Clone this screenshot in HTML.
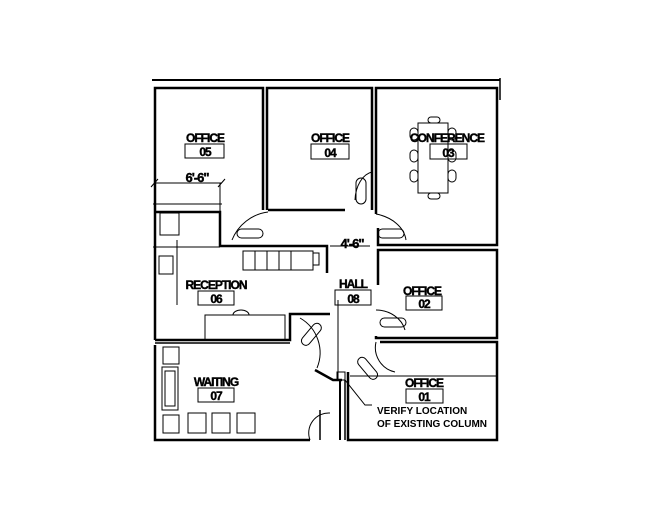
<!DOCTYPE html>
<html><head><style>
body{margin:0;background:#fff;width:650px;height:530px;overflow:hidden}
svg{display:block}
text{font-family:"Liberation Sans",sans-serif;font-weight:bold;fill:#000}
.l{font-size:12px;letter-spacing:-1px;stroke:#000;stroke-width:0.4}
</style></head><body>
<svg width="650" height="530" viewBox="0 0 650 530" xmlns="http://www.w3.org/2000/svg">
<g fill="none" stroke="#000" stroke-width="2.5">
<line x1="152" y1="80" x2="500" y2="80" stroke-width="2"/>
<line x1="500" y1="78" x2="500" y2="100" stroke-width="1.5"/>
<polyline points="155,212 155,88 263,88 263,210"/>
<polyline points="267,210 267,88 372,88 372,210"/>
<polyline points="376,214 376,88 497,88 497,245 378,245 378,228"/>
<polyline points="155,212 220,212 220,246 327,246 327,273"/>
<line x1="155" y1="212" x2="155" y2="340"/>
<line x1="268" y1="210" x2="345" y2="210"/>
<line x1="153" y1="204" x2="222" y2="204" stroke-width="1"/>
<polyline points="378,285 378,250 497,250 497,338 376,338 376,336"/>
<polyline points="348,372 348,440 497,440 497,342 380,342"/>
<polyline points="155,340 290,340 290,314 330,314"/>
<polyline points="155,345 155,440 310,440"/>
<line x1="155" y1="343" x2="290" y2="343" stroke-width="1.5"/>
<polyline points="315,370 333,380 342,380"/>
<line x1="340" y1="380" x2="340" y2="440" stroke-width="2"/>
<line x1="345" y1="380" x2="345" y2="440" stroke-width="1.5"/>
<line x1="320" y1="440" x2="320" y2="410" stroke-width="1.5"/>
</g>
<g fill="none" stroke="#000" stroke-width="1">
<line x1="338" y1="300" x2="338" y2="380"/>
<line x1="350" y1="376" x2="497" y2="376"/>
<line x1="153" y1="247" x2="220" y2="247"/>
<path d="M232,240 A45,45 0 0 1 268,212"/>
<path d="M355,200 A20,30 0 0 1 372,172"/>
<path d="M376,214 A40,30 0 0 1 406,240"/>
<path d="M376,310 A30,26 0 0 1 405,330"/>
<path d="M376,342 A25,25 0 0 0 395,372"/>
<path d="M300,318 A40,40 0 0 1 317,368"/>
<path d="M310,440 A20,20 0 0 1 330,413"/>
<line x1="155" y1="183" x2="222" y2="183"/>
<line x1="151" y1="187" x2="158" y2="179"/>
<line x1="218" y1="187" x2="225" y2="179"/>
<line x1="220" y1="183" x2="220" y2="212"/>
<line x1="330" y1="246" x2="370" y2="246"/>
<rect x="237" y="229" width="26" height="9" rx="4.5"/>
<rect x="378" y="229" width="26" height="9" rx="4.5"/>
<rect x="356" y="178" width="10" height="26" rx="5"/>
<rect x="380" y="318" width="26" height="9" rx="4.5"/>
<rect x="298" y="330" width="26" height="9" rx="4.5" transform="rotate(-50 311 334)"/>
<rect x="355" y="364" width="26" height="9" rx="4.5" transform="rotate(50 368 368)"/>
<rect x="418" y="123" width="30" height="70"/>
<rect x="410" y="128" width="8" height="12" rx="4"/>
<rect x="410" y="150" width="8" height="12" rx="4"/>
<rect x="410" y="170" width="8" height="12" rx="4"/>
<rect x="448" y="128" width="8" height="12" rx="4"/>
<rect x="448" y="150" width="8" height="12" rx="4"/>
<rect x="448" y="170" width="8" height="12" rx="4"/>
<rect x="428" y="117" width="12" height="6" rx="3"/>
<rect x="428" y="193" width="12" height="6" rx="3"/>
<rect x="160" y="213" width="19" height="22"/>
<rect x="159" y="256" width="14" height="18"/>
<line x1="177" y1="240" x2="177" y2="305"/>
<rect x="243" y="251" width="70" height="19"/>
<line x1="255" y1="251" x2="255" y2="270"/>
<line x1="267" y1="251" x2="267" y2="270"/>
<line x1="279" y1="251" x2="279" y2="270"/>
<line x1="291" y1="251" x2="291" y2="270"/>
<rect x="313" y="253" width="6" height="12"/>
<rect x="205" y="315" width="80" height="25"/>
<path d="M233,315 A8,5 0 0 1 249,315"/>
<rect x="163" y="347" width="16" height="17"/>
<rect x="162" y="367" width="16" height="43"/>
<rect x="165" y="371" width="10" height="35"/>
<rect x="163" y="415" width="16" height="18"/>
<rect x="188" y="413" width="18" height="20"/>
<rect x="212" y="413" width="18" height="20"/>
<rect x="237" y="413" width="18" height="20"/>
<rect x="337" y="372" width="8" height="8"/>
<polyline points="345,380 365,405 372,405"/>
<rect x="185" y="144" width="39" height="14"/>
<rect x="311" y="144" width="38" height="15"/>
<rect x="430" y="144" width="37" height="15"/>
<rect x="198" y="291" width="36" height="14"/>
<rect x="335" y="290" width="36" height="15"/>
<rect x="406" y="296" width="36" height="14"/>
<rect x="198" y="388" width="36" height="14"/>
<rect x="406" y="389" width="37" height="14"/>
</g>
<g text-anchor="middle">
<text class="l" x="205" y="142">OFFICE</text><text class="l" x="205" y="156">05</text>
<text class="l" x="330" y="142">OFFICE</text><text class="l" x="330" y="157">04</text>
<text class="l" x="447" y="142">CONFERENCE</text><text class="l" x="448" y="157">03</text>
<text class="l" x="216" y="289">RECEPTION</text><text class="l" x="216" y="303">06</text>
<text class="l" x="353" y="288">HALL</text><text class="l" x="353" y="303">08</text>
<text class="l" x="422" y="295">OFFICE</text><text class="l" x="424" y="308">02</text>
<text class="l" x="216" y="386">WAITING</text><text class="l" x="216" y="400">07</text>
<text class="l" x="424" y="387">OFFICE</text><text class="l" x="424" y="401">01</text>
<text class="l" x="197" y="182" style="font-size:13px">6'-6"</text>
<text class="l" x="352" y="248" style="font-size:13px">4'-6"</text>
</g>
<text x="377" y="414" style="font-size:10px">VERIFY LOCATION</text>
<text x="377" y="427" style="font-size:10px">OF EXISTING COLUMN</text>
</svg>
</body></html>
